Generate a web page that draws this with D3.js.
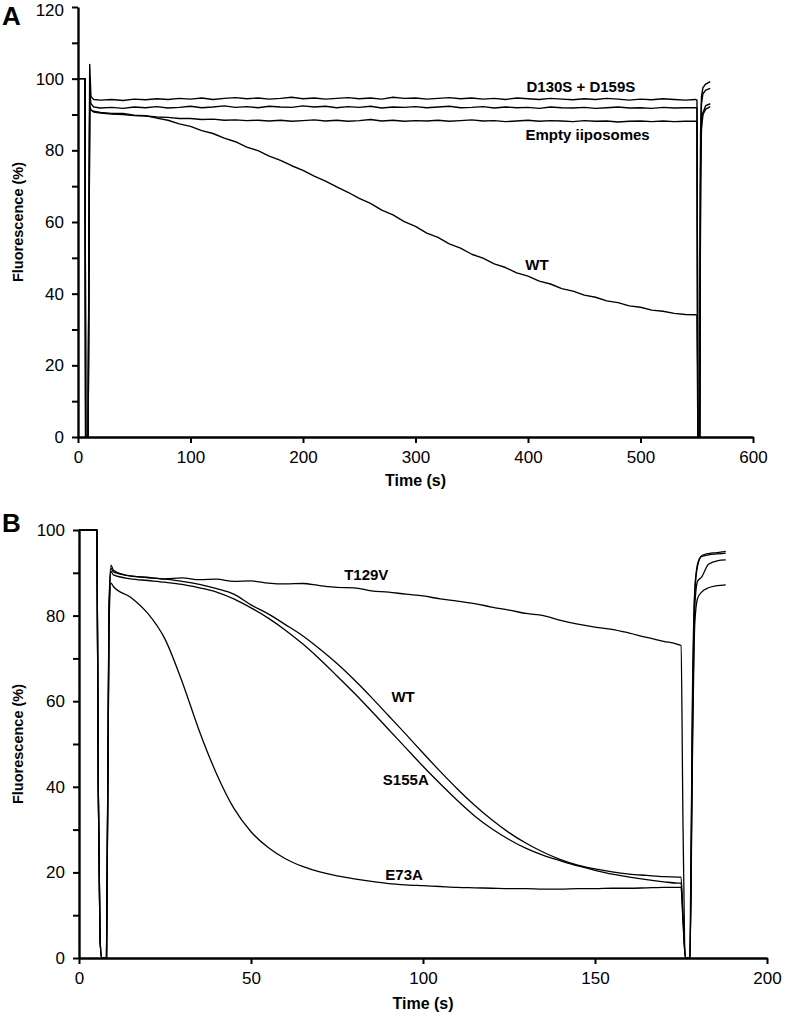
<!DOCTYPE html>
<html><head><meta charset="utf-8">
<script src="https://cdn.jsdelivr.net/npm/d3@7"></script>
<style>
body{margin:0;background:#fff}
svg{display:block}
</style></head><body>
<svg id="chart" width="785" height="1016"></svg>
<script>
// ---------- Panel A data ----------
const timeA = [0, 6.2, 6.8, 9.0, 10.4, 11.5, 14,
  20, 30, 40, 50, 60, 70, 80, 90, 100, 110,
  120, 130, 140, 150, 160, 170, 180, 190, 200, 210,
  220, 230, 240, 250, 260, 270, 280, 290, 300, 310,
  320, 330, 340, 350, 360, 370, 380, 390, 400, 410,
  420, 430, 440, 450, 460, 470, 480, 490, 500, 510,
  520, 530, 540,
  549, 550.2, 551, 552.6, 553.4, 554.2, 555.5, 558, 562];

const a_D130S_D159S = [100, 100, 0, 0, 104, 95, 94.2,
  94.0, 94.2, 93.9, 94.3, 94.1, 94.4, 94.2, 94.5, 94.3, 94.6,
  94.2, 94.5, 94.7, 94.4, 94.6, 94.3, 94.5, 94.8, 94.4, 94.6,
  94.3, 94.5, 94.7, 94.4, 94.6, 94.3, 94.8, 94.5, 94.6, 94.3,
  94.5, 94.7, 94.4, 94.6, 94.3, 94.5, 94.2, 94.6, 94.4, 94.2,
  94.5, 94.3, 94.1, 94.4, 94.2, 94.5, 94.3, 94.0, 94.3, 94.1,
  94.4, 94.2, 94.0,
  94.2, 94.0, 0, 0, 85, 95, 97.5, 98.5, 99.2];

const a_mutant2 = [100, 100, 0, 0, 96, 93, 92.1,
  91.8, 92.0, 91.7, 92.1, 91.9, 92.2, 91.8, 92.0, 92.3, 91.9,
  92.1, 92.4, 92.0, 92.2, 91.9, 92.3, 92.1, 92.0, 92.4, 92.1,
  92.3, 91.9, 92.2, 92.0, 92.3, 91.8, 92.1, 92.0, 92.2, 91.9,
  92.1, 92.3, 91.9, 92.0, 92.2, 91.8, 92.1, 91.9, 92.0, 91.7,
  92.1, 91.9, 91.8, 92.0, 91.7, 91.9, 92.1, 91.8, 91.9, 91.7,
  92.0, 91.8, 91.9,
  91.9, 91.8, 0, 0, 80, 93, 95.8, 96.8, 97.3];

const a_Empty = [100, 100, 0, 0, 92.5, 91.3, 90.7,
  90.4, 90.1, 90.0, 89.7, 89.6, 89.3, 89.2, 88.9, 88.9, 88.6,
  88.7, 88.4, 88.5, 88.3, 88.4, 88.2, 88.4, 88.1, 88.3, 88.5,
  88.2, 88.4, 88.1, 88.3, 88.6, 88.2, 88.4, 88.1, 88.3, 88.2,
  88.4, 88.1, 88.3, 88.5, 88.2, 88.3, 88.0, 88.2, 88.4, 88.1,
  88.3, 88.2, 88.0, 88.3, 88.1, 88.2, 87.9, 88.1, 88.2, 88.0,
  88.2, 88.0, 88.1,
  88.1, 88.0, 0, 0, 75, 88, 90.5, 92.5, 93.0];

const a_WT = [100, 100, 0, 0, 91.6, 91.2, 90.9,
  90.6, 90.3, 90.3, 89.8, 89.7, 89.0, 88.4, 87.4, 86.7, 85.5,
  84.7, 83.4, 82.4, 80.9, 79.9, 78.4, 77.2, 75.7, 74.4, 72.8,
  71.4, 69.8, 68.3, 66.6, 65.2, 63.3, 62.0, 60.1, 58.8, 56.9,
  55.7, 53.9, 52.7, 51.0, 49.9, 48.3, 47.3, 45.8, 44.9, 43.5,
  42.7, 41.4, 40.7, 39.6, 39.0, 38.0, 37.5, 36.6, 36.2, 35.4,
  35.1, 34.5, 34.2,
  34.1, 34.0, 0, 0, 70, 86, 90.0, 91.5, 92.2];

const seriesA = [a_D130S_D159S, a_mutant2, a_Empty, a_WT];
const labelsA = ["D130S + D159S", "Empty iiposomes", "WT"];
const labelPosA = [[447, 97.7], [453, 84.3], [408, 48]];

// ---------- Panel B data ----------
const timeB = [0, 5.2, 5.6, 6.1, 6.6, 8.0, 8.7, 9.3,
  10, 15, 20, 25, 30, 35, 40, 45, 50, 55,
  60, 65, 70, 75, 80, 85, 90, 95, 100, 105,
  110, 115, 120, 125, 130, 135, 140, 145, 150, 155,
  160, 165, 170, 174,
  175, 175.6, 176.3, 177.6, 178.3, 179.0, 179.8, 181, 183, 185.5, 188];

const b_T129V = [100, 100, 40, 5, 0, 0, 82, 91.8,
  90.6, 89.2, 88.9, 88.6, 88.8, 88.4, 88.5, 88.0, 88.1, 87.6,
  87.4, 87.5, 87.0, 86.6, 86.5, 85.8, 85.5, 85.0, 84.6, 83.9,
  83.4, 82.8, 82.0, 81.3, 80.5, 80.0, 78.9, 78.0, 77.3, 76.8,
  75.9, 74.9, 74.0, 73.3,
  73.0, 30, 0, 0, 50, 82, 88, 89, 92, 92.8, 93.0];

const b_WT = [100, 100, 40, 5, 0, 0, 80, 91.0,
  90.2, 89.3, 88.9, 88.5, 88.0, 87.3, 86.3, 85.0, 82.5, 80.4,
  77.9, 75.3, 72.2, 68.8, 65.0, 60.9, 56.6, 52.3, 47.9, 43.6,
  39.5, 35.7, 32.3, 29.3, 26.8, 24.7, 23.0, 21.7, 20.8, 20.1,
  19.6, 19.3, 19.0, 18.9,
  18.9, 10, 0, 0, 60, 86, 92, 94, 94.5, 94.7, 95.0];

const b_S155A = [100, 100, 40, 5, 0, 0, 78, 90.3,
  89.5, 88.6, 88.2, 87.8, 87.3, 86.5, 85.5, 83.9, 81.8, 79.4,
  76.6, 73.4, 69.8, 65.9, 61.9, 57.7, 53.4, 49.1, 44.8, 40.7,
  36.8, 33.2, 30.2, 27.7, 25.6, 24.0, 22.7, 21.5, 20.5, 19.6,
  18.9, 18.3, 17.8, 17.5,
  17.5, 9, 0, 0, 55, 85, 91.5, 93.8, 94.2, 94.4, 94.6];

const b_E73A = [100, 100, 40, 5, 0, 0, 76, 87.6,
  86.8, 84.3, 80.5, 74.5, 64.5, 53.0, 43.0, 35.0, 29.5, 25.8,
  23.2, 21.4, 20.1, 19.2, 18.5, 17.9, 17.4, 17.1, 16.9, 16.7,
  16.5, 16.4, 16.3, 16.2, 16.2, 16.1, 16.1, 16.2, 16.2, 16.3,
  16.3, 16.4, 16.5, 16.5,
  16.5, 8, 0, 0, 45, 78, 84, 85.5, 86.5, 87.0, 87.2];

const seriesB = [b_T129V, b_WT, b_S155A, b_E73A];
const labelsB = ["T129V", "WT", "S155A", "E73A"];
const labelPosB = [[83.5, 89.5], [94.2, 61], [95, 41.6], [94.5, 19.6]];

// ---------- ticks ----------
const ticksAy = [0, 10, 20, 30, 40, 50, 60, 70, 80, 90, 100, 110, 120];
const ticksAx = [0, 100, 200, 300, 400, 500, 600];
const ticksBy = [0, 10, 20, 30, 40, 50, 60, 70, 80, 90, 100];
const ticksBx = [0, 50, 100, 150, 200];

// ---------- drawing ----------
const svg = d3.select("#chart");
const FONT = "'Liberation Sans', Arial, Helvetica, sans-serif";

function panel(cfg) {
  const x = d3.scaleLinear().domain(cfg.xDomain).range(cfg.xRange);
  const y = d3.scaleLinear().domain(cfg.yDomain).range(cfg.yRange);
  const g = svg.append("g");

  const line = d3.line()
    .x(d => x(d[0])).y(d => y(d[1]))
    .curve(cfg.curve);

  cfg.series.forEach(vals => {
    const pts = cfg.time.map((t, i) => [t, vals[i]]).filter(p => p[1] !== undefined);
    g.append("path").datum(pts)
      .attr("d", line)
      .attr("fill", "none")
      .attr("stroke", "#000")
      .attr("stroke-width", cfg.lw)
      .attr("stroke-linejoin", "round");
  });

  const yAxis = d3.axisLeft(y).tickValues(cfg.yTicks).tickSize(6).tickSizeOuter(0)
    .tickPadding(8).tickFormat(d => d % 20 === 0 ? d : "");
  const xAxis = d3.axisBottom(x).tickValues(cfg.xTicks).tickSize(6).tickSizeOuter(0)
    .tickPadding(8);

  const ya = g.append("g").attr("transform", `translate(${cfg.xRange[0]},0)`).call(yAxis);
  const xa = g.append("g").attr("transform", `translate(0,${cfg.yRange[0]})`).call(xAxis);
  [ya, xa].forEach(a => {
    a.select(".domain").attr("stroke", "#000").attr("stroke-width", 2.4);
    a.selectAll(".tick line").attr("stroke", "#000").attr("stroke-width", 2);
    a.selectAll(".tick text").attr("font-family", FONT).attr("font-size", 17).attr("fill", "#000");
  });
  // keep the topmost y label inside the picture
  ya.selectAll(".tick text").filter(d => d === cfg.yDomain[1] && y(d) < 12).attr("dy", "0.5em");

  // axis titles
  g.append("text")
    .attr("x", (cfg.xRange[0] + cfg.xRange[1]) / 2)
    .attr("y", cfg.xTitleY)
    .attr("text-anchor", "middle")
    .attr("font-family", "'Liberation Sans Narrow', " + FONT)
    .attr("font-weight", "bold").attr("font-size", 16)
    .text("Time (s)");
  const yMid = (cfg.yRange[0] + cfg.yRange[1]) / 2;
  g.append("text")
    .attr("transform", `translate(23,${yMid}) rotate(-90)`)
    .attr("text-anchor", "middle")
    .attr("font-family", FONT)
    .attr("font-weight", "bold").attr("font-size", 14.5)
    .text("Fluorescence (%)");

  // panel letter
  g.append("text")
    .attr("x", 2).attr("y", cfg.letterY)
    .attr("font-family", FONT).attr("font-weight", "bold").attr("font-size", 26)
    .text(cfg.letter);

  // series labels
  cfg.labels.forEach((lab, i) => {
    g.append("text")
      .attr("x", x(cfg.labelPos[i][0]))
      .attr("y", y(cfg.labelPos[i][1]))
      .attr("dy", "0.36em")
      .attr("text-anchor", "middle")
      .attr("font-family", FONT).attr("font-weight", "bold").attr("font-size", 15)
      .text(lab);
  });
}

panel({
  xDomain: [0, 600], xRange: [78, 753],
  yDomain: [0, 120], yRange: [437, 7],
  time: timeA, series: seriesA, curve: d3.curveLinear, lw: 1.4,
  yTicks: ticksAy, xTicks: ticksAx,
  xTitleY: 486, letter: "A", letterY: 25,
  labels: labelsA, labelPos: labelPosA
});

panel({
  xDomain: [0, 200], xRange: [79, 767],
  yDomain: [0, 100], yRange: [958, 530],
  time: timeB, series: seriesB, curve: d3.curveMonotoneX, lw: 1.3,
  yTicks: ticksBy, xTicks: ticksBx,
  xTitleY: 1009, letter: "B", letterY: 532,
  labels: labelsB, labelPos: labelPosB
});
</script>
</body></html>
